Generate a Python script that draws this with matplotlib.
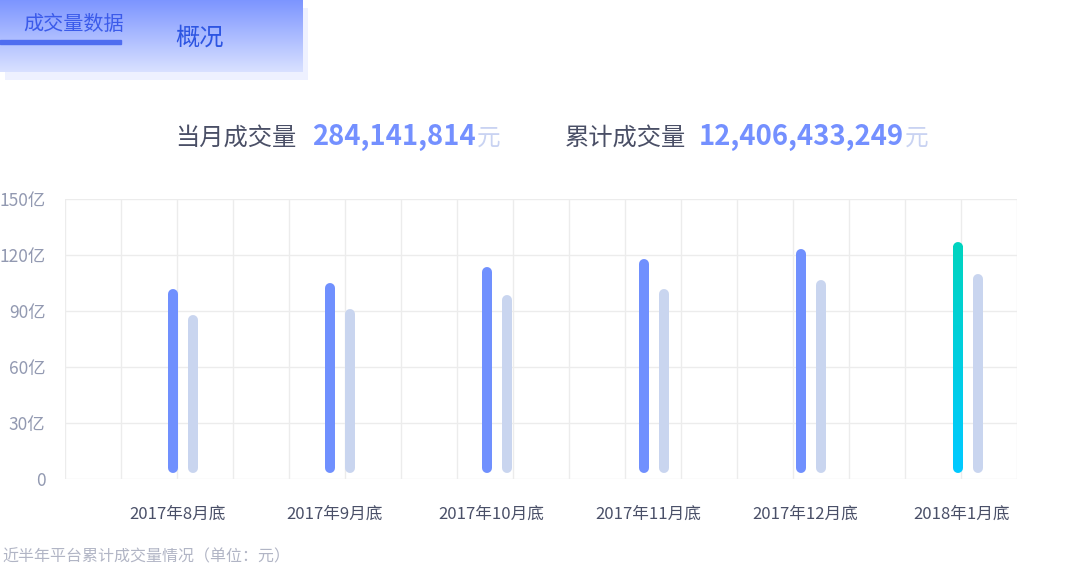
import matplotlib as mpl
mpl.use('Agg')
import matplotlib.pyplot as plt
import numpy as np
from matplotlib.collections import LineCollection
from matplotlib.colors import LinearSegmentedColormap
from matplotlib.patches import Rectangle

plt.rcParams['font.family'] = ['Noto Sans CJK SC', 'DejaVu Sans']

# data (亿元)
months = ['2017年8月底', '2017年9月底', '2017年10月底', '2017年11月底', '2017年12月底', '2018年1月底']
monthly = [101.8, 105.0, 113.5, 117.8, 123.0, 127.0]
cumulative = [87.8, 91.0, 98.5, 101.8, 106.6, 109.8]
yticks = [0, 30, 60, 90, 120, 150]
ytick_labels = ['0', '30亿', '60亿', '90亿', '120亿', '150亿']

month_amount = '284,141,814'
total_amount = '12,406,433,249'

W, H = 1080, 568
BLUE = '#7090fe'
LIGHT = '#c9d5ef'
GRID = '#ececec'


def fx(px):
    return px / W


def fy(py):
    return 1 - py / H


fig = plt.figure(figsize=(W / 100, H / 100), dpi=100)
renderer = fig.canvas.get_renderer()

# header tab with gradient
shadow = fig.add_axes([fx(5), fy(80), fx(303), (80 - 8) / H])
shadow.set_axis_off()
shadow.add_patch(Rectangle((0, 0), 1, 1, color='#eef1ff', transform=shadow.transAxes))
tab = fig.add_axes([fx(0), fy(72), fx(303), 72 / H])
tab.set_axis_off()
grad = np.linspace(0, 1, 256).reshape(-1, 1)
tab_cmap = LinearSegmentedColormap.from_list('tab', ['#7b94ff', '#d9e1ff'])
tab.imshow(grad, aspect='auto', cmap=tab_cmap, extent=[0, 1, 1, 0], origin='upper')
tab.set_xlim(0, 1)
tab.set_ylim(1, 0)

fig.text(fx(23), fy(24.5), '成交量数据', fontsize=14.5, color='#3b5bea', va='center', ha='left')
fig.add_artist(Rectangle((0, fy(43.5)), fx(121), 3 / H, color='#4f6df0',
                         transform=fig.transFigure))
fig.text(fx(175), fy(38), '概况', fontsize=17.5, color='#2d55e2', va='center', ha='left')


def amount(x0, x1, label, value):
    fig.text(fx(x0), fy(138), label, fontsize=17.5, color='#4a4f66', va='center', ha='left')
    t = fig.text(fx(x1), fy(137), value, fontsize=19.8, color='#7490ff',
                 va='center', ha='left', fontweight='bold')
    end = t.get_window_extent(renderer).x1
    fig.text(end / W + fx(1), fy(138), '元', fontsize=17, color='#c9d3f2',
             va='center', ha='left')


amount(175, 312, '当月成交量', month_amount)
amount(565, 699, '累计成交量', total_amount)

# chart
ax = fig.add_axes([fx(65), fy(479), fx(1017 - 65), (479 - 199) / H])
x = np.arange(len(months))
px_per_cat = 157.0
x_left = (65 - 177) / px_per_cat
x_right = (1017 - 177) / px_per_cat
ax.set_xlim(x_left, x_right)
ax.set_ylim(0, 150)

for s in ax.spines.values():
    s.set_visible(False)
for k in range(18):
    ax.axvline(x_left + k * 56 / px_per_cat, color=GRID, lw=1, zorder=0)
for v in yticks:
    ax.axhline(v, color=GRID, lw=1, zorder=0)

ax.set_yticks(yticks)
ax.set_yticklabels(ytick_labels)
ax.set_xticks(x)
ax.set_xticklabels(months)
ax.tick_params(axis='y', length=0, pad=14, labelsize=12.5, labelcolor='#9299b1')
ax.tick_params(axis='x', length=0, pad=19, labelsize=12, labelcolor='#4a5068')

lw_pt = 10 * 72 / 100
r = 5 * 150 / 280          # cap radius in data units
bottom = 6 * 150 / 280
off_a, off_b = -4 / px_per_cat, 16 / px_per_cat

for i in range(len(months)):
    xa = x[i] + off_a
    xb = x[i] + off_b
    ax.plot([xb, xb], [bottom + r, cumulative[i] - r], color=LIGHT, lw=lw_pt,
            solid_capstyle='round', zorder=3)
    if i < len(months) - 1:
        ax.plot([xa, xa], [bottom + r, monthly[i] - r], color=BLUE, lw=lw_pt,
                solid_capstyle='round', zorder=3)
    else:
        # latest month: teal -> cyan gradient
        top_c, bot_c = '#00d3c0', '#00c9ff'
        g = LinearSegmentedColormap.from_list('bar', [bot_c, top_c])
        ys = np.linspace(bottom + r, monthly[i] - r, 80)
        segs = [[(xa, ys[j]), (xa, ys[j + 1] + 0.3)] for j in range(len(ys) - 1)]
        ax.plot([xa, xa], [bottom + r, bottom + r + 1], color=bot_c, lw=lw_pt,
                solid_capstyle='round', zorder=3)
        ax.plot([xa, xa], [monthly[i] - r - 1, monthly[i] - r], color=top_c, lw=lw_pt,
                solid_capstyle='round', zorder=3)
        lc = LineCollection(segs, colors=g(np.linspace(0, 1, len(segs))),
                            linewidths=lw_pt, capstyle='butt', zorder=4)
        ax.add_collection(lc)

fig.text(fx(2), fy(557), '近半年平台累计成交量情况（单位：元）', fontsize=11.5,
         color='#b1b5c5', va='center', ha='left')

fig.savefig('out.png', dpi=100)
